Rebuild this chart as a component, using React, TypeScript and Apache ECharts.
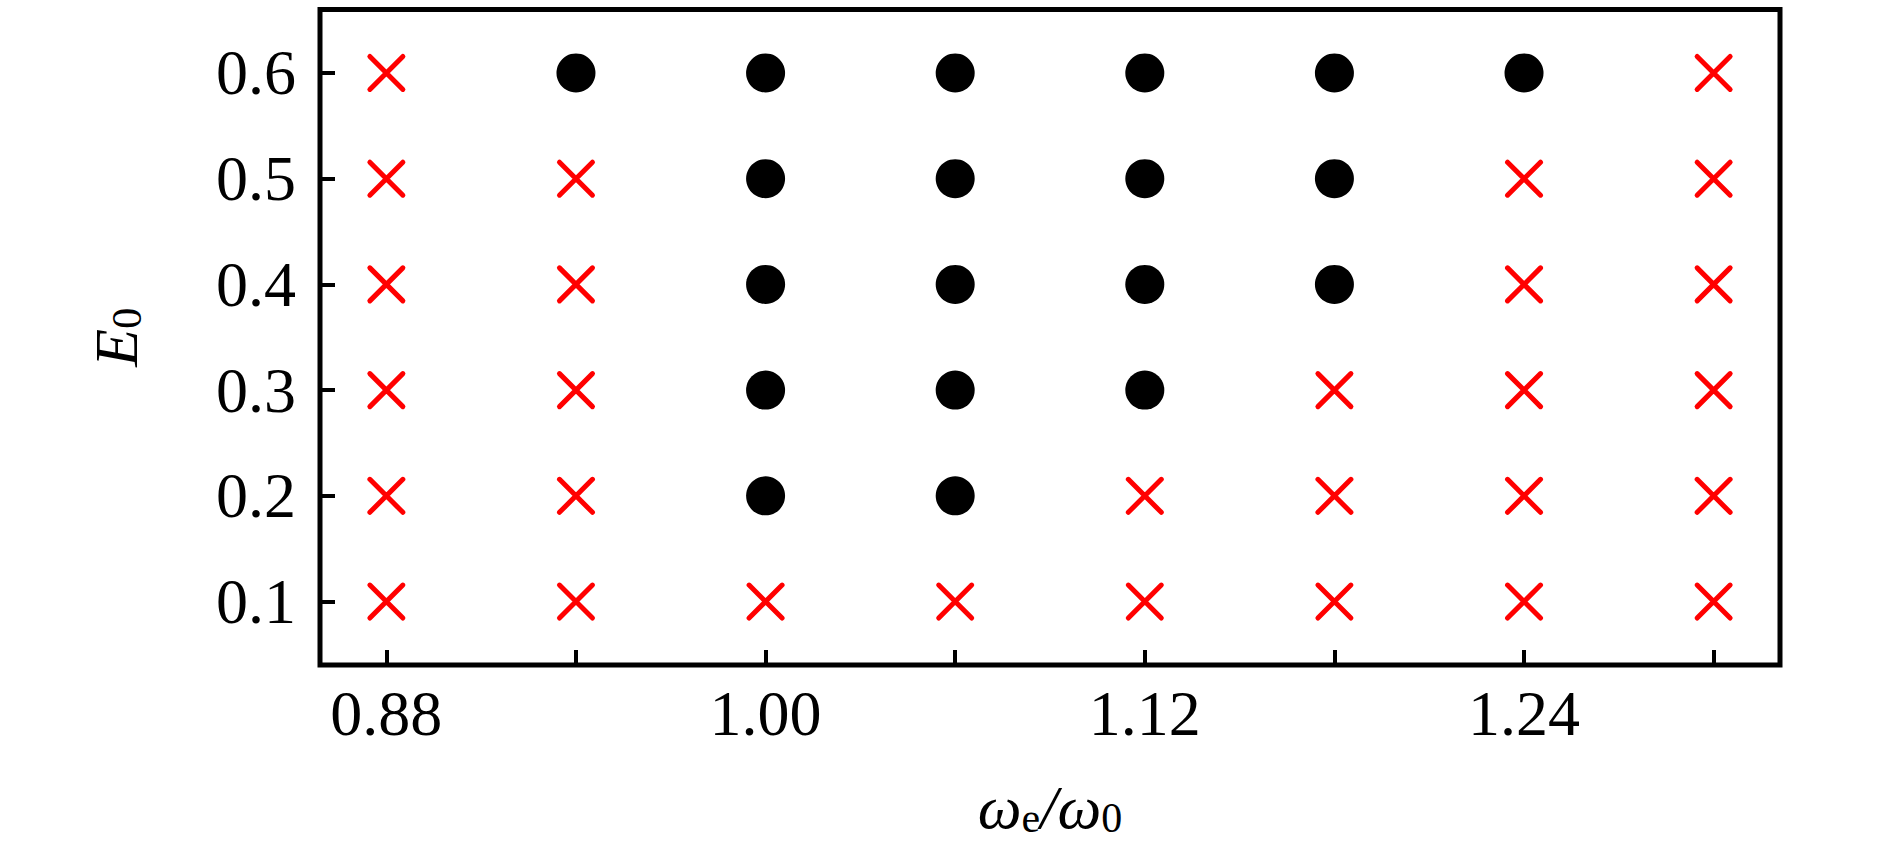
import React, { useEffect, useRef } from "react";
import * as echarts from "echarts";

const xValues = [0.88, 0.94, 1.0, 1.06, 1.12, 1.18, 1.24, 1.3];
const yValues = [0.1, 0.2, 0.3, 0.4, 0.5, 0.6];
const xLabelTicks = [0.88, 1.0, 1.12, 1.24];

// points marked with a filled black circle
const circlePoints: [number, number][] = [
  [0.94, 0.6], [1.0, 0.6], [1.06, 0.6], [1.12, 0.6], [1.18, 0.6], [1.24, 0.6],
  [1.0, 0.5], [1.06, 0.5], [1.12, 0.5], [1.18, 0.5],
  [1.0, 0.4], [1.06, 0.4], [1.12, 0.4], [1.18, 0.4],
  [1.0, 0.3], [1.06, 0.3], [1.12, 0.3],
  [1.0, 0.2], [1.06, 0.2],
];

// points marked with a red cross
const crossPoints: [number, number][] = [
  [0.88, 0.6], [1.3, 0.6],
  [0.88, 0.5], [0.94, 0.5], [1.24, 0.5], [1.3, 0.5],
  [0.88, 0.4], [0.94, 0.4], [1.24, 0.4], [1.3, 0.4],
  [0.88, 0.3], [0.94, 0.3], [1.18, 0.3], [1.24, 0.3], [1.3, 0.3],
  [0.88, 0.2], [0.94, 0.2], [1.12, 0.2], [1.18, 0.2], [1.24, 0.2], [1.3, 0.2],
  [0.88, 0.1], [0.94, 0.1], [1.0, 0.1], [1.06, 0.1], [1.12, 0.1], [1.18, 0.1], [1.24, 0.1], [1.3, 0.1],
];

const FONT = "Liberation Serif";

export default function App() {
  const ref = useRef<HTMLDivElement>(null);
  useEffect(() => {
    if (!ref.current) return;
    const chart = echarts.init(ref.current, undefined, { renderer: "svg" });
    chart.setOption({
      animation: false,
      backgroundColor: "#ffffff",
      grid: {
        left: 320,
        top: 9.5,
        right: 110,
        bottom: 186,
        show: true,
        borderColor: "#000000",
        borderWidth: 5,
        backgroundColor: "transparent",
        outerBoundsMode: "none",
        containLabel: false,
      },
      xAxis: {
        type: "value",
        min: 0.859,
        max: 1.321,
        splitLine: { show: false },
        axisLine: { show: false },
        axisTick: {
          show: true,
          inside: true,
          length: 15,
          customValues: xValues,
          lineStyle: { color: "#000", width: 4 },
        },
        axisLabel: {
          customValues: xLabelTicks,
          formatter: (v: number) => v.toFixed(2),
          fontFamily: FONT,
          fontSize: 64,
          color: "#000",
          margin: 16,
        },
        name: "{w|ω}{s|e}{w|/ω}{s|0}",
        nameLocation: "middle",
        nameGap: 110,
        nameTextStyle: {
          rich: {
            w: { fontFamily: FONT, fontStyle: "italic", fontSize: 62, lineHeight: 64, color: "#000" },
            s: { fontFamily: FONT, fontSize: 42, lineHeight: 40, color: "#000", verticalAlign: "bottom" },
          },
        },
      },
      yAxis: {
        type: "value",
        min: 0.04,
        max: 0.66,
        splitLine: { show: false },
        axisLine: { show: false },
        axisTick: {
          show: true,
          inside: true,
          length: 15,
          customValues: yValues,
          lineStyle: { color: "#000", width: 4 },
        },
        axisLabel: {
          customValues: yValues,
          formatter: (v: number) => v.toFixed(1),
          fontFamily: FONT,
          fontSize: 64,
          color: "#000",
          margin: 24,
        },
        name: "{e|E}{s|0}",
        nameLocation: "middle",
        nameGap: 172,
        nameRotate: 90,
        nameTextStyle: {
          rich: {
            e: { fontFamily: FONT, fontStyle: "italic", fontSize: 62, lineHeight: 64, color: "#000" },
            s: { fontFamily: FONT, fontSize: 42, lineHeight: 40, color: "#000", verticalAlign: "bottom" },
          },
        },
      },
      series: [
        {
          type: "scatter",
          data: circlePoints,
          symbol: "circle",
          symbolSize: 39,
          itemStyle: { color: "#000000", opacity: 1 },
          z: 3,
        },
        {
          type: "scatter",
          data: crossPoints,
          symbol: "path://M0,0L10,10M10,0L0,10",
          symbolSize: 33,
          itemStyle: {
            color: "none",
            borderColor: "#ff0000",
            borderWidth: 5,
            borderCap: "round",
            opacity: 1,
          },
          z: 3,
        },
      ],
    });
    return () => chart.dispose();
  }, []);
  return (
    <div
      ref={ref}
      style={{ position: "fixed", left: 0, top: 0, width: 1890, height: 851 }}
    />
  );
}
